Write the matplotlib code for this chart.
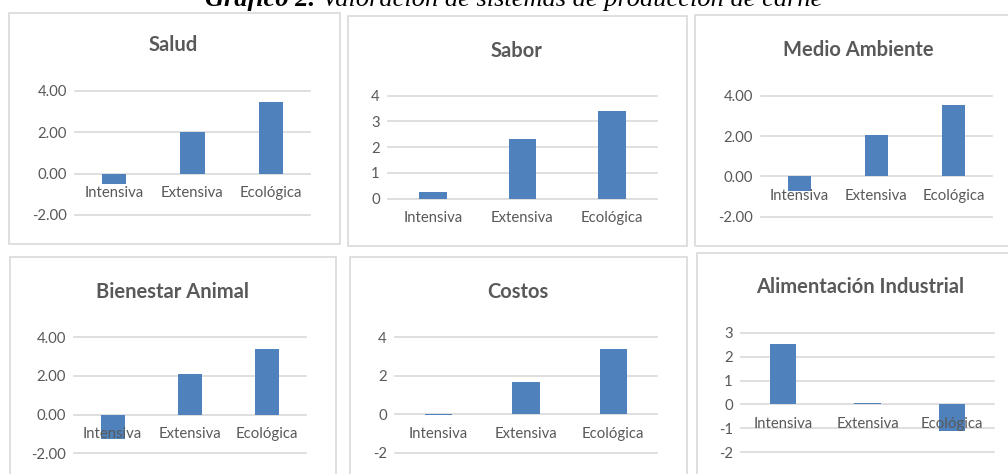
import matplotlib
matplotlib.use('Agg')
import matplotlib.pyplot as plt
from matplotlib.patches import Rectangle
from matplotlib.ticker import FormatStrFormatter

W, H = 1008, 474

categorias = ['Intensiva', 'Extensiva', 'Ecológica']
salud = [-0.52, 2.03, 3.47]
sabor = [0.25, 2.32, 3.41]
medio_ambiente = [-0.73, 2.06, 3.55]
bienestar_animal = [-1.27, 2.10, 3.40]
costos = [-0.03, 1.68, 3.37]
alimentacion = [2.52, 0.05, -1.10]

titulos = ['Salud', 'Sabor', 'Medio Ambiente', 'Bienestar Animal', 'Costos',
           'Alimentación Industrial']
series = [salud, sabor, medio_ambiente, bienestar_animal, costos, alimentacion]
ticks = [[-2, 0, 2, 4], [0, 1, 2, 3, 4], [-2, 0, 2, 4], [-2, 0, 2, 4],
         [-2, 0, 2, 4], [-2, -1, 0, 1, 2, 3]]
formatos = ['%.2f', '%d', '%.2f', '%.2f', '%d', '%d']

# layout in pixels (from top-left): panel box, plot area, title centre
cajas = [(9, 13, 340, 244), (348, 16, 687, 246), (695, 15, 1015, 246),
         (10, 257, 336, 490), (350, 257, 687, 490), (697, 253, 1015, 490)]
areas = [(75, 91, 310, 215), (388, 95.7, 657, 198.7), (761, 95.7, 992, 216.7),
         (74, 337.3, 306, 453.3), (395, 337.3, 657, 452.7), (741, 333, 994, 452)]
centros = [(173, 45), (517, 50.7), (858, 50), (172, 292), (518, 292), (860, 287)]

gris = '#595959'
azul = '#4f81bd'
linea = '#d9d9d9'
fuente = 'Lato'

fig = plt.figure(figsize=(W / 100, H / 100), dpi=100)

def fx(x):
    return x / W

def fy(y):
    return 1 - y / H

for caja, area, centro, titulo, valores, tk, fmt in zip(cajas, areas, centros, titulos,
                                                      series, ticks, formatos):
    x0, y0, x1, y1 = caja
    fig.patches.append(Rectangle((fx(x0), fy(y1)), fx(x1 - x0), (y1 - y0) / H,
                                 transform=fig.transFigure, fill=False,
                                 ec=linea, lw=1.2))

    ax0, ay0, ax1, ay1 = area
    ax = fig.add_axes([fx(ax0), fy(ay1), fx(ax1 - ax0), (ay1 - ay0) / H])
    # gridlines drawn by hand so the category labels can sit above the bars
    for t in tk:
        ax.axhline(t, color=linea, lw=1.2, zorder=0, clip_on=False)
    ax.bar(range(len(categorias)), valores, width=0.31, color=azul, zorder=1)
    ax.set_xlim(-0.5, len(categorias) - 0.5)
    ax.set_ylim(tk[0], tk[-1])
    ax.set_yticks(tk)
    ax.yaxis.set_major_formatter(FormatStrFormatter(fmt))
    ax.set_xticks(range(len(categorias)))
    ax.set_xticklabels(categorias)
    ax.spines['bottom'].set_position(('data', 0))
    for s in ax.spines.values():
        s.set_visible(False)
    ax.tick_params(axis='y', length=0, pad=6, labelsize=10.7, labelcolor=gris)
    ax.tick_params(axis='x', length=0, pad=9, labelsize=10.7, labelcolor=gris)
    for lab in ax.get_xticklabels() + ax.get_yticklabels():
        lab.set_family(fuente)
    ax.patch.set_alpha(0)

    fig.text(fx(centro[0]), fy(centro[1]), titulo, ha='center', va='center',
             fontsize=14.5, fontweight='bold', color=gris, family=fuente)

# main caption, cut at the top edge as in the source
t1 = fig.text(fx(205), fy(6), 'Gráfico 2. ', ha='left', va='baseline',
              fontsize=19, fontstyle='italic', fontweight='bold',
              family='Liberation Serif', color='black')
r = fig.canvas.get_renderer()
bb = t1.get_window_extent(renderer=r)
fig.text(bb.x1 / W, fy(6), 'Valoración de sistemas de producción de carne',
         ha='left', va='baseline', fontsize=19, fontstyle='italic',
         family='Liberation Serif', color='black')

fig.savefig('out.png', dpi=100)
